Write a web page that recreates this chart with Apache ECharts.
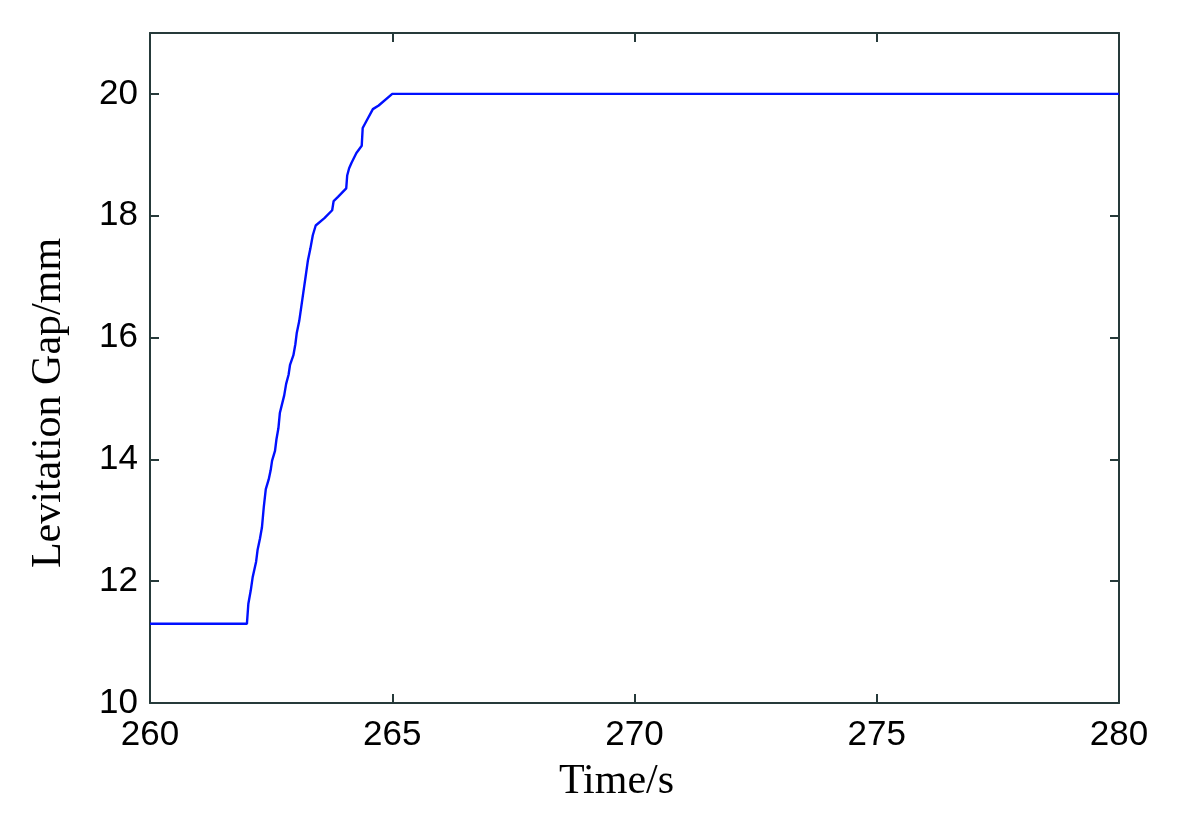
<!DOCTYPE html>
<html>
<head>
<meta charset="utf-8">
<script src="https://cdn.jsdelivr.net/npm/echarts@6/dist/echarts.min.js"></script>
<style>
html,body{margin:0;padding:0;background:#fff;}
#chart{width:1190px;height:817px;}
</style>
</head>
<body>
<div id="chart"></div>
<script>
const timeValues = [260, 262.0, 262.03, 262.08, 262.12, 262.19, 262.22, 262.27, 262.31, 262.35, 262.39, 262.45, 262.49, 262.52, 262.58, 262.61, 262.65, 262.68, 262.72, 262.77, 262.81, 262.86, 262.89, 262.96, 263.0, 263.03, 263.08, 263.12, 263.17, 263.21, 263.26, 263.31, 263.36, 263.42, 263.45, 263.6, 263.76, 263.79, 263.88, 264.05, 264.07, 264.11, 264.16, 264.26, 264.37, 264.39, 264.47, 264.6, 264.72, 265.0, 280];
const gapValues = [11.3, 11.3, 11.63, 11.85, 12.07, 12.32, 12.51, 12.7, 12.88, 13.23, 13.51, 13.67, 13.82, 13.98, 14.14, 14.33, 14.51, 14.76, 14.89, 15.05, 15.24, 15.39, 15.55, 15.71, 15.89, 16.08, 16.27, 16.49, 16.77, 16.99, 17.27, 17.46, 17.68, 17.84, 17.87, 17.96, 18.09, 18.24, 18.31, 18.45, 18.66, 18.78, 18.87, 19.03, 19.15, 19.44, 19.56, 19.75, 19.81, 20.0, 20.0];
const xTicks = [260, 265, 270, 275, 280];
const yTicks = [10, 12, 14, 16, 18, 20];
const xTitle = 'Time/s';
const yTitle = 'Levitation Gap/mm';

const axisColor = '#263a3a';
const chart = echarts.init(document.getElementById('chart'), null, {renderer: 'canvas'});
const data = timeValues.map((t, i) => [t, gapValues[i]]);

const baseX = {
  type: 'value', min: 260, max: 280, interval: 5,
  splitLine: {show: false},
  axisLine: {show: true, onZero: false, lineStyle: {color: axisColor, width: 2}},
  axisTick: {show: true, inside: true, length: 9, lineStyle: {color: axisColor, width: 2}, customValues: xTicks}
};
const baseY = {
  type: 'value', min: 10, max: 21, interval: 2,
  splitLine: {show: false},
  axisLine: {show: true, onZero: false, lineStyle: {color: axisColor, width: 2}},
  axisTick: {show: true, inside: true, length: 9, lineStyle: {color: axisColor, width: 2}, customValues: yTicks}
};

chart.setOption({
  backgroundColor: '#ffffff',
  animation: false,
  grid: {left: 150, right: 71, top: 33, bottom: 114, containLabel: false},
  xAxis: [
    Object.assign({}, baseX, {
      position: 'bottom',
      name: xTitle, nameLocation: 'middle', nameGap: 58,
      nameTextStyle: {fontFamily: 'Liberation Serif', fontSize: 42, color: '#000', padding: [0, 36, 0, 0]},
      axisLabel: {show: true, margin: 15, fontFamily: 'Liberation Sans', fontSize: 35, color: '#000', customValues: xTicks}
    }),
    Object.assign({}, baseX, {position: 'top', axisLabel: {show: false}})
  ],
  yAxis: [
    Object.assign({}, baseY, {
      position: 'left',
      name: yTitle, nameLocation: 'middle', nameGap: 80, nameRotate: 90,
      nameTextStyle: {fontFamily: 'Liberation Serif', fontSize: 42, color: '#000', padding: [0, 70, 0, 0]},
      axisLabel: {show: true, margin: 12, fontFamily: 'Liberation Sans', fontSize: 35, color: '#000', customValues: yTicks}
    }),
    Object.assign({}, baseY, {position: 'right', axisLabel: {show: false}})
  ],
  series: [{
    type: 'line',
    data: data,
    xAxisIndex: 0, yAxisIndex: 0,
    showSymbol: false,
    lineStyle: {color: '#0010ff', width: 2.4},
    z: 1
  }]
});
</script>
</body>
</html>
